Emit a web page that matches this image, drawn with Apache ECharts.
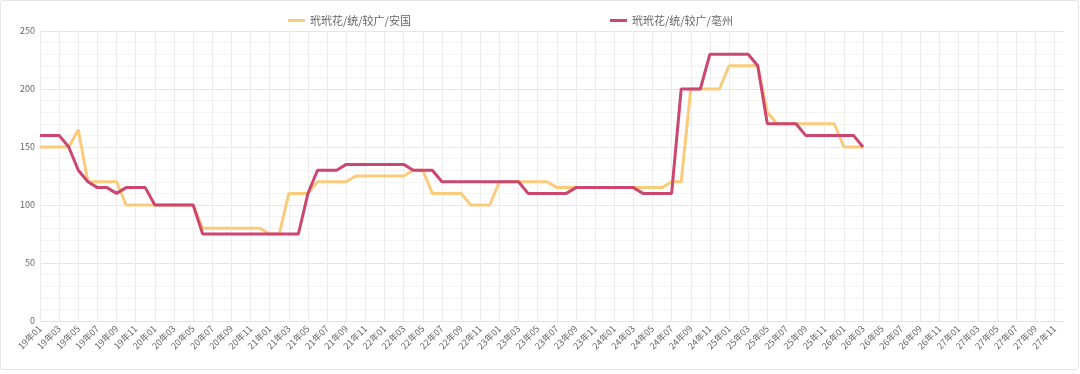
<!DOCTYPE html>
<html>
<head>
<meta charset="utf-8">
<script src="https://cdn.jsdelivr.net/npm/echarts@6/dist/echarts.min.js"></script>
<style>
html,body{margin:0;padding:0;background:#fff;}
#frame{position:absolute;left:0;top:0;width:1077px;height:368px;border:1px solid #e6e6e6;border-radius:3px;}
#chart{position:absolute;left:0;top:0;width:1080px;height:374px;}
</style>
</head>
<body>
<div id="frame"></div>
<div id="chart"></div>
<script>
var years = ['19','20','21','22','23','24','25','26','27'];
var months = ['01','02','03','04','05','06','07','08','09','10','11','12'];
var categories = [];
years.forEach(function(y){ months.forEach(function(m){ categories.push(y + '年' + m); }); });

var seriesNames = ['玳玳花/统/较广/安国', '玳玳花/统/较广/亳州'];

var anguo = [150,150,150,150,165,120,120,120,120,100,100,100,100,100,100,100,100,
  80,80,80,80,80,80,80,75,75,110,110,110,120,120,120,120,125,125,125,125,125,125,
  130,130,110,110,110,110,100,100,100,120,120,120,120,120,120,
  115,115,115,115,115,115,115,115,115,115,115,115,120,120,200,200,200,200,
  220,220,220,220,180,170,170,170,170,170,170,170,150,150,150];

var bozhou = [160,160,160,150,130,120,115,115,110,115,115,115,100,100,100,100,100,
  75,75,75,75,75,75,75,75,75,75,75,110,130,130,130,135,135,135,135,135,135,135,
  130,130,130,120,120,120,120,120,120,120,120,120,110,110,110,110,110,
  115,115,115,115,115,115,115,110,110,110,110,200,200,200,230,230,230,230,230,
  220,170,170,170,170,160,160,160,160,160,160,150];

var colors = ['#fbcb7c', '#cc4770'];

var chart = echarts.init(document.getElementById('chart'), null, {renderer:'canvas'});
chart.setOption({
  animation: false,
  legend: [
    {data:[seriesNames[0]], left: 283, top: 10, icon:'rect', itemWidth:17, itemHeight:3,
     textStyle:{color:'#666', fontSize:11, fontFamily:'Noto Sans CJK SC'}},
    {data:[seriesNames[1]], left: 605, top: 10, icon:'rect', itemWidth:17, itemHeight:3,
     textStyle:{color:'#666', fontSize:11, fontFamily:'Noto Sans CJK SC'}}
  ],
  grid: {left: 40, right: 16, top: 31, bottom: 53, containLabel: false},
  xAxis: {
    type: 'category',
    data: categories,
    boundaryGap: false,
    axisLine: {show: true, lineStyle: {color: '#e3e3e3'}},
    axisTick: {show: false},
    axisLabel: {interval: 1, rotate: 45, fontSize: 9, color: '#666', margin: 6,
      fontFamily: 'Noto Sans CJK SC'},
    splitLine: {show: true, interval: 1, lineStyle: {color: '#ececec', width: 1}}
  },
  yAxis: {
    type: 'value',
    min: 0, max: 250, interval: 50,
    axisLine: {show: false},
    axisTick: {show: false},
    axisLabel: {fontSize: 9, color: '#666', margin: 5, fontFamily: 'Noto Sans CJK SC'},
    splitLine: {show: true, lineStyle: {color: '#e6e6e6'}},
    minorTick: {show: false, splitNumber: 5},
    minorSplitLine: {show: true, lineStyle: {color: '#f4f4f4'}}
  },
  series: [
    {name: seriesNames[0], type: 'line', data: anguo, symbol: 'none',
     lineStyle: {width: 3, color: colors[0]}, itemStyle: {color: colors[0]}},
    {name: seriesNames[1], type: 'line', data: bozhou, symbol: 'none',
     lineStyle: {width: 3, color: colors[1]}, itemStyle: {color: colors[1]}}
  ]
});
</script>
</body>
</html>
